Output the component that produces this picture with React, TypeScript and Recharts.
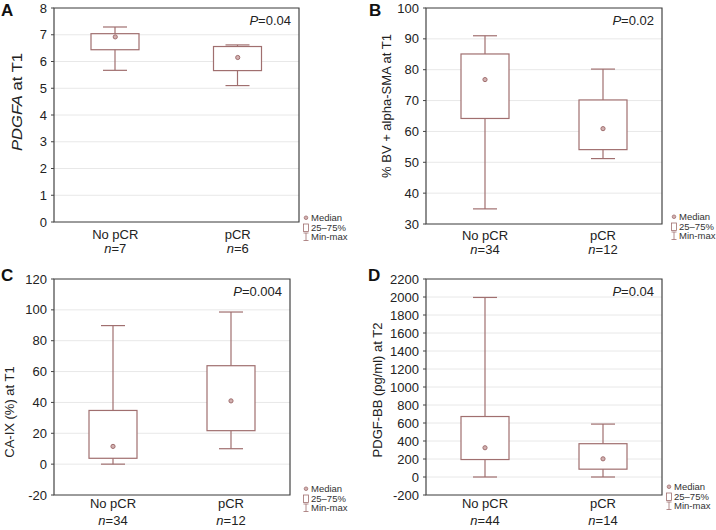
import React from 'react';
import {
  ComposedChart,
  Bar,
  Line,
  XAxis,
  YAxis,
  CartesianGrid,
  ReferenceArea,
} from 'recharts';

const groups = ['No pCR', 'pCR'];

// A: PDGFA at T1
const pdgfaN = [7, 6];
const pdgfaMin = [5.67, 5.1];
const pdgfaQ1 = [6.44, 5.66];
const pdgfaMedian = [6.92, 6.15];
const pdgfaQ3 = [7.04, 6.56];
const pdgfaMax = [7.29, 6.62];
const pdgfaTicks = [0, 1, 2, 3, 4, 5, 6, 7, 8];

// B: % BV + alpha-SMA at T1
const bvN = [34, 12];
const bvMin = [34.9, 51.2];
const bvQ1 = [64.2, 54.1];
const bvMedian = [76.8, 60.9];
const bvQ3 = [85.1, 70.2];
const bvMax = [91, 80.2];
const bvTicks = [30, 40, 50, 60, 70, 80, 90, 100];

// C: CA-IX (%) at T1
const caixN = [34, 12];
const caixMin = [0, 10];
const caixQ1 = [3.8, 21.7];
const caixMedian = [11.5, 41];
const caixQ3 = [34.8, 63.8];
const caixMax = [89.8, 98.6];
const caixTicks = [-20, 0, 20, 40, 60, 80, 100, 120];

// D: PDGF-BB (pg/ml) at T2
const pdgfbbN = [44, 14];
const pdgfbbMin = [0, 0];
const pdgfbbQ1 = [194, 87];
const pdgfbbMedian = [325, 202];
const pdgfbbQ3 = [672, 370];
const pdgfbbMax = [1995, 588];
const pdgfbbTicks = [-200, 0, 200, 400, 600, 800, 1000, 1200, 1400, 1600, 1800, 2000, 2200];

const BOX = '#a06f6f';
const FONT = '"Liberation Sans", Arial, sans-serif';

type Seg = { t: string; i?: boolean };

const makeRows = (n: number[], mn: number[], q1: number[], md: number[], q3: number[], mx: number[]) =>
  groups.map((g, k) => ({
    group: g,
    n: n[k],
    whisker: [mn[k], mx[k]],
    box: [q1[k], q3[k]],
    median: md[k],
  }));

const Whisker = (props: any) => {
  const { x, y, width, height } = props;
  const top = Math.min(y, y + height);
  const bot = Math.max(y, y + height);
  const cx = x + width / 2;
  return (
    <g stroke={BOX} strokeWidth={1.2} fill="none">
      <line x1={cx} y1={top} x2={cx} y2={bot} />
      <line x1={x} y1={top} x2={x + width} y2={top} />
      <line x1={x} y1={bot} x2={x + width} y2={bot} />
    </g>
  );
};

const BoxShape = (props: any) => {
  const { x, y, width, height } = props;
  return (
    <rect x={x} y={Math.min(y, y + height)} width={width} height={Math.abs(height)} fill="#fff" stroke={BOX} strokeWidth={1.2} />
  );
};

const MedianDot = (props: any) => {
  const { cx, cy } = props;
  if (cx == null || cy == null) return null;
  return <circle cx={cx} cy={cy} r={2.1} fill="#d2b0b0" stroke={BOX} strokeWidth={1} />;
};

const segs = (list: Seg[]) =>
  list.map((s, k) => (
    <tspan key={k} fontStyle={s.i ? 'italic' : 'normal'}>
      {s.t}
    </tspan>
  ));

type PanelProps = {
  letter: string;
  rows: any[];
  domain: [number, number];
  ticks: number[];
  yLabel: Seg[];
  yLabelSize?: number;
  yLabelLength?: number;
  labelDy: number;
  pText: Seg[];
  left: number;
  top: number;
  width: number;
  yAxisWidth: number;
  rightMargin: number;
  topMargin: number;
  xAxisHeight: number;
  labelX: number;
  line1: number;
  line2: number;
  letterX: number;
  legendX: number;
  legendY: number;
};

const Panel = (p: PanelProps) => {
  const GroupTick = (tp: any) => {
    const { x, y, payload, index } = tp;
    const row = p.rows[index] || p.rows.find((r) => r.group === payload.value);
    return (
      <g fontFamily={FONT} fontSize={13} fill="#222">
        <text x={x} y={y + p.line1} textAnchor="middle" dominantBaseline="middle" fill="#222">
          {payload.value}
        </text>
        <text x={x} y={y + p.line2} textAnchor="middle" dominantBaseline="middle" fill="#222">
          <tspan fontStyle="italic">n</tspan>={row ? row.n : ''}
        </text>
      </g>
    );
  };

  const YLab = (lp: any) => {
    const vb = lp.viewBox || {};
    const cy = vb.y + vb.height / 2 + p.labelDy;
    return (
      <text
        x={p.labelX}
        y={cy}
        transform={`rotate(-90 ${p.labelX} ${cy})`}
        textAnchor="middle"
        dominantBaseline="middle"
        fontFamily={FONT}
        fontSize={p.yLabelSize || 13}
        fill="#222"
        textLength={p.yLabelLength}
        lengthAdjust={p.yLabelLength ? 'spacingAndGlyphs' : undefined}
      >
        {segs(p.yLabel)}
      </text>
    );
  };

  const PLab = (lp: any) => {
    const vb = lp.viewBox || {};
    return (
      <text x={vb.x + vb.width - 8} y={vb.y + 14} textAnchor="end" dominantBaseline="middle" fontFamily={FONT} fontSize={13} fill="#222">
        {segs(p.pText)}
      </text>
    );
  };

  return (
    <div style={{ position: 'absolute', left: p.left, top: p.top, width: p.width, height: 265 }}>
      <div
        style={{
          position: 'absolute',
          left: p.letterX,
          top: 1,
          fontFamily: FONT,
          fontWeight: 'bold',
          fontSize: 17,
          color: '#111',
        }}
      >
        {p.letter}
      </div>
      <ComposedChart
        width={p.width}
        height={265}
        data={p.rows}
        margin={{ top: p.topMargin, right: p.rightMargin, left: 0, bottom: 0 }}
      >
        <CartesianGrid vertical={false} stroke="#e8e8e8" />
        <XAxis
          xAxisId="b"
          dataKey="group"
          height={p.xAxisHeight}
          axisLine={false}
          tickLine={false}
          tick={<GroupTick />}
          interval={0}
        />
        <XAxis xAxisId="w" dataKey="group" hide />
        <YAxis
          domain={p.domain}
          ticks={p.ticks}
          type="number"
          width={p.yAxisWidth}
          axisLine={false}
          tickSize={3}
          tickMargin={4}
          tickLine={{ stroke: '#444' }}
          tick={{ fontFamily: FONT, fontSize: 13, fill: '#222' }}
          interval={0}
          label={{ content: YLab }}
        />
        <YAxis
          yAxisId="r"
          orientation="right"
          domain={p.domain}
          ticks={p.ticks}
          type="number"
          width={0}
          mirror
          axisLine={false}
          tickSize={3}
          tickLine={{ stroke: '#444' }}
          tickFormatter={() => ''}
          interval={0}
        />
        <Bar xAxisId="w" dataKey="whisker" barSize={24} shape={<Whisker />} isAnimationActive={false} />
        <Bar xAxisId="b" dataKey="box" barSize={48} shape={<BoxShape />} isAnimationActive={false} />
        <Line
          xAxisId="b"
          dataKey="median"
          stroke="none"
          dot={<MedianDot />}
          activeDot={false}
          isAnimationActive={false}
        />
        <ReferenceArea
          xAxisId="b"
          y1={p.domain[0]}
          y2={p.domain[1]}
          fill="none"
          stroke="#444"
          strokeWidth={1.2}
          ifOverflow="visible"
          label={{ content: PLab }}
        />
      </ComposedChart>
      <div
        style={{
          position: 'absolute',
          left: p.legendX,
          top: p.legendY,
          fontFamily: FONT,
          fontSize: 9.5,
          lineHeight: '9.5px',
          color: '#333',
          whiteSpace: 'nowrap',
        }}
      >
        <div style={{ display: 'flex', alignItems: 'center' }}>
          <svg width={6} height={9.5} style={{ marginRight: 2 }}>
            <circle cx={3} cy={4.75} r={1.8} fill="#d2b0b0" stroke={BOX} strokeWidth={0.8} />
          </svg>
          Median
        </div>
        <div style={{ display: 'flex', alignItems: 'center' }}>
          <svg width={6} height={9.5} style={{ marginRight: 2 }}>
            <rect x={0.5} y={1} width={5} height={7.5} fill="#fff" stroke={BOX} strokeWidth={0.8} />
          </svg>
          25–75%
        </div>
        <div style={{ display: 'flex', alignItems: 'center' }}>
          <svg width={6} height={9.5} style={{ marginRight: 2 }}>
            <g stroke={BOX} strokeWidth={0.8}>
              <line x1={3} y1={1} x2={3} y2={8.5} />
              <line x1={0.5} y1={1} x2={5.5} y2={1} />
              <line x1={0.5} y1={8.5} x2={5.5} y2={8.5} />
            </g>
          </svg>
          Min-max
        </div>
      </div>
    </div>
  );
};

export default function App() {
  const rowsA = makeRows(pdgfaN, pdgfaMin, pdgfaQ1, pdgfaMedian, pdgfaQ3, pdgfaMax);
  const rowsB = makeRows(bvN, bvMin, bvQ1, bvMedian, bvQ3, bvMax);
  const rowsC = makeRows(caixN, caixMin, caixQ1, caixMedian, caixQ3, caixMax);
  const rowsD = makeRows(pdgfbbN, pdgfbbMin, pdgfbbQ1, pdgfbbMedian, pdgfbbQ3, pdgfbbMax);

  return (
    <div style={{ position: 'absolute', left: 0, top: 0, width: 716, height: 530, background: '#fff', overflow: 'hidden' }}>
      <Panel
        letter="A"
        rows={rowsA}
        domain={[0, 8]}
        ticks={pdgfaTicks}
        yLabel={[{ t: 'PDGFA', i: true }, { t: ' at T1' }]}
        yLabelSize={14}
        yLabelLength={98}
        labelDy={-13}
        pText={[{ t: 'P', i: true }, { t: '=0.04' }]}
        left={0}
        top={0}
        width={358}
        yAxisWidth={54}
        rightMargin={59}
        topMargin={8}
        xAxisHeight={43}
        labelX={18}
        line1={6}
        line2={19.5}
        letterX={1}
        legendX={303}
        legendY={213}
      />
      <Panel
        letter="B"
        rows={rowsB}
        domain={[30, 100]}
        ticks={bvTicks}
        yLabel={[{ t: '% BV + alpha-SMA at T1' }]}
        labelDy={-10}
        pText={[{ t: 'P', i: true }, { t: '=0.02' }]}
        left={356}
        top={0}
        width={360}
        yAxisWidth={70}
        rightMargin={54}
        topMargin={8}
        xAxisHeight={41}
        labelX={32}
        line1={5}
        line2={18.5}
        letterX={13}
        legendX={315}
        legendY={212}
      />
      <Panel
        letter="C"
        rows={rowsC}
        domain={[-20, 120]}
        ticks={caixTicks}
        yLabel={[{ t: 'CA-IX (%) at T1' }]}
        labelDy={25}
        pText={[{ t: 'P', i: true }, { t: '=0.004' }]}
        left={0}
        top={265}
        width={358}
        yAxisWidth={54}
        rightMargin={68}
        topMargin={14}
        xAxisHeight={35}
        labelX={11}
        line1={2}
        line2={19}
        letterX={1}
        legendX={303}
        legendY={219}
      />
      <Panel
        letter="D"
        rows={rowsD}
        domain={[-200, 2200]}
        ticks={pdgfbbTicks}
        yLabel={[{ t: 'PDGF-BB (pg/ml) at T2' }]}
        labelDy={3}
        pText={[{ t: 'P', i: true }, { t: '=0.04' }]}
        left={356}
        top={265}
        width={360}
        yAxisWidth={70}
        rightMargin={54}
        topMargin={14}
        xAxisHeight={35}
        labelX={23}
        line1={2}
        line2={19}
        letterX={12}
        legendX={310}
        legendY={217}
      />
    </div>
  );
}
